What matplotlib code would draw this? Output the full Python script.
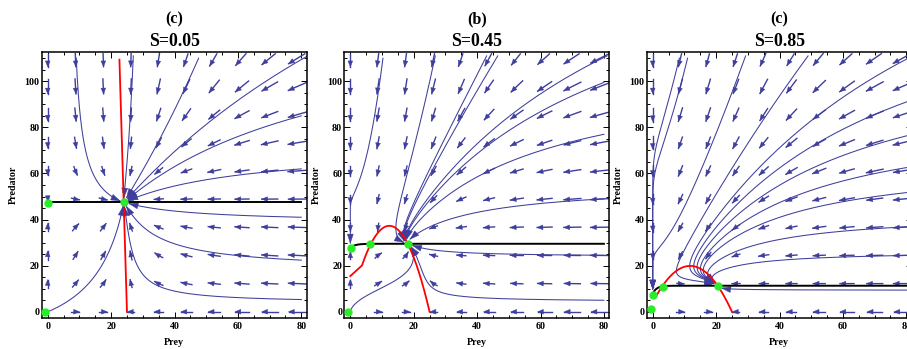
import numpy as np
import matplotlib
matplotlib.use("Agg")
import matplotlib.pyplot as plt
from matplotlib.patches import Polygon
from matplotlib.ticker import MultipleLocator

plt.rcParams['font.family'] = ['Liberation Serif', 'DejaVu Serif']
plt.rcParams['font.weight'] = 'bold'

tags = ['(c)', '(b)', '(c)']
s_values = ['0.05', '0.45', '0.85']

# prey:     x' = x*(r*(1 - x/K) - y/(h + x)),   isocline y = r*(1 - x/K)*(h + x)
# predator: y' = b*y*(m(x) - y),  m(x) rises from m0 at x=0 to m1
K = 25.0
prey_r = [1.124, 5.78, 2.855]
prey_h = [1000.0, 0.4, 1.4]
red_floor = [None, (15.5, 1.24), (6.4, 0.3)]   # isocline near x=0 (intercept, slope)
floor_end = 5.0
red_top = 110.3
pred_b = [0.0242, 0.086, 0.041]
pred_m0 = [47.5, 27.8, 7.8]
pred_m1 = [47.5, 29.5, 11.3]
pred_tau = [1.0, 1.5, 1.2]

# equilibrium points
eq_x = [[-0.85, 0.2, 24.2], [-0.7, 0.2, 6.1, 18.2], [-0.4, 0.1, 3.3, 20.5]]
eq_y = [[0.0, 47.4, 47.7], [0.0, 27.5, 29.3, 29.6], [1.2, 7.2, 10.6, 11.3]]
sinks = [[(24.2, 47.6)], [(18.2, 29.6), (0.0, 27.8)], [(20.5, 11.3), (0.0, 7.8)]]

# start points of the long trajectories
seeds = [
    [(9.0, 110.0), (27.0, 111.0), (47.6, 110.0), (82.0, 111.0), (80.0, 85.0),
     (80.0, 62.0), (80.0, 41.0), (80.0, 22.4), (80.0, 5.3)],
    [(10.3, 110.0), (26.8, 111.0), (43.0, 111.0), (46.5, 111.0), (81.0, 111.0),
     (80.0, 99.5), (80.0, 77.0), (80.0, 49.0), (80.0, 24.5), (80.0, 5.0)],
    [(11.0, 110.0), (8.4, 110.0), (29.3, 111.0), (49.0, 111.0), (82.0, 111.0),
     (82.0, 92.0), (82.0, 77.0), (82.0, 63.0), (82.0, 52.0), (82.0, 37.0),
     (82.0, 24.5), (82.0, 9.4)],
]
# a point on the trajectory leaving the origin (traced both ways)
origin_seeds = [(11.3, 10.0), (10.5, 10.8), None]

grid_x = np.linspace(0, 78.8, 10)
grid_y = np.linspace(0, 110, 10)

XLIM = (-1.9, 81.7)
YLIM = (-2.7, 112.7)
FIG_W, FIG_H = 907, 349
AX_W, AX_H = 265.0, 266.0
SX = AX_W / (XLIM[1] - XLIM[0])
SY = AX_H / (YLIM[1] - YLIM[0])
lefts = [41.7, 344.3, 646.7]
bottom = 349 - 318.0

BLUE = '#3e3e9c'
GREEN = '#28ee28'


def field(k, x, y):
    x = np.maximum(x, 0.0)
    g = prey_r[k] * (1 - x / K) - y / (prey_h[k] + x)
    m = pred_m1[k] - (pred_m1[k] - pred_m0[k]) * np.exp(-x / pred_tau[k])
    return x * g, pred_b[k] * y * (m - y)


def direction(k, x, y, sign):
    u, v = field(k, x, y)
    px, py = u * SX, v * SY
    n = np.hypot(px, py)
    if n < 1e-12:
        return None
    return sign * px / n / SX, sign * py / n / SY


def trace(k, x0, y0, length, sign, stops=(), stop_r=5.0, step=0.5):
    xs, ys = [x0], [y0]
    x, y = x0, y0
    done = 0.0
    while done < length:
        d1 = direction(k, x, y, sign)
        if d1 is None:
            break
        d2 = direction(k, x + 0.5 * step * d1[0], y + 0.5 * step * d1[1], sign)
        if d2 is None:
            break
        x, y = x + step * d2[0], y + step * d2[1]
        done += step
        if x < -0.5 or x > 82.5 or y < -0.5 or y > 112.0:
            break
        xs.append(x)
        ys.append(y)
        if any(np.hypot((x - a) * SX, (y - b) * SY) < stop_r for a, b in stops):
            break
    return np.array(xs), np.array(ys)


def head(ax, xs, ys, length, width, color=BLUE):
    x, y = xs[-1], ys[-1]
    j = max(0, len(xs) - 4)
    px, py = (x - xs[j]) * SX, (y - ys[j]) * SY
    n = np.hypot(px, py)
    if n == 0:
        return
    ux, uy = px / n, py / n
    bx, by = x - ux * length / SX, y - uy * length / SY
    wx, wy = -uy * width / 2, ux * width / 2
    pts = [(x, y), (bx + wx / SX, by + wy / SY), (bx - wx / SX, by - wy / SY)]
    ax.add_patch(Polygon(pts, closed=True, fc=color, ec=color, lw=0.3, zorder=3))


fig = plt.figure(figsize=(FIG_W / 100, FIG_H / 100), dpi=100)

for k in range(3):
    ax = fig.add_axes([lefts[k] / FIG_W, bottom / FIG_H, AX_W / FIG_W, AX_H / FIG_H])
    ax.set_xlim(*XLIM)
    ax.set_ylim(*YLIM)

    # short arrows on a grid
    gx, gy = np.meshgrid(grid_x, grid_y)
    gu, gv = field(k, gx, gy)
    speed = np.hypot(gu, gv)
    smax = speed.max()
    for x0, y0, s in zip(gx.ravel(), gy.ravel(), speed.ravel()):
        if s < 1e-3 * smax:
            continue
        L = 6.5 + 14 * (s / smax) ** 0.7
        fx, fy = trace(k, x0, y0, L / 2, 1)
        bx, by = trace(k, x0, y0, L / 2, -1)
        xs = np.concatenate([bx[::-1], fx[1:]])
        ys = np.concatenate([by[::-1], fy[1:]])
        if len(xs) < 2:
            continue
        ax.plot(xs, ys, color=BLUE, lw=1.0, zorder=2)
        head(ax, xs, ys, 5.8, 4.8)

    # long trajectories
    for x0, y0 in seeds[k]:
        xs, ys = trace(k, x0, y0, 3000, 1, sinks[k])
        ax.plot(xs, ys, color=BLUE, lw=0.75, zorder=2)
        head(ax, xs, ys, 9.0, 6.0)
    if origin_seeds[k] is not None:
        x0, y0 = origin_seeds[k]
        bx, by = trace(k, x0, y0, 3000, -1, [(0.0, 0.0)], stop_r=1.0)
        fx, fy = trace(k, x0, y0, 3000, 1, sinks[k])
        xs = np.concatenate([bx[::-1], fx[1:]])
        ys = np.concatenate([by[::-1], fy[1:]])
        ax.plot(xs, ys, color=BLUE, lw=0.75, zorder=2)
        head(ax, xs, ys, 9.0, 6.0)

    # predator isocline
    bx = np.linspace(0, 80, 300)
    by = pred_m1[k] - (pred_m1[k] - pred_m0[k]) * np.exp(-bx / pred_tau[k])
    ax.plot(bx, by, color='black', lw=1.4, zorder=4)

    # prey isocline
    rx = np.linspace(0, K, 600)
    ry = prey_r[k] * (1 - rx / K) * (prey_h[k] + rx)
    if red_floor[k] is not None:
        low = red_floor[k][0] + red_floor[k][1] * rx
        ry = np.where(rx < floor_end, np.maximum(ry, low), ry)
    keep = ry <= red_top
    ax.plot(rx[keep], ry[keep], color='red', lw=1.3, zorder=5)

    ax.plot(eq_x[k], eq_y[k], 'o', color=GREEN, ms=5, mec=GREEN, zorder=6,
            clip_on=False)

    ax.xaxis.set_major_locator(MultipleLocator(20))
    ax.xaxis.set_minor_locator(MultipleLocator(5))
    ax.yaxis.set_major_locator(MultipleLocator(20))
    ax.yaxis.set_minor_locator(MultipleLocator(5))
    ax.tick_params(which='both', direction='in', top=True, right=True,
                   labelsize=7.2, width=0.7)
    ax.tick_params(which='major', length=4)
    ax.tick_params(which='minor', length=2)
    ax.tick_params(axis='x', pad=3)
    ax.tick_params(axis='y', pad=1.5)
    for sp in ax.spines.values():
        sp.set_linewidth(1.1)

    ax.set_xlabel('Prey', fontsize=7.2, fontweight='bold')
    ax.xaxis.set_label_coords(0.5, -0.074)
    ax.set_ylabel('Predator', fontsize=7.2, fontweight='bold')
    ax.yaxis.set_label_coords(-0.09, 0.5)
    ax.text(0.5, 1.041, 'S=' + s_values[k], transform=ax.transAxes,
            ha='center', va='center', fontsize=12.8, fontweight='bold')
    ax.text(0.5, 1.124, tags[k], transform=ax.transAxes,
            ha='center', va='center', fontsize=11.5, fontweight='bold')

fig.savefig('out.png', dpi=100)
